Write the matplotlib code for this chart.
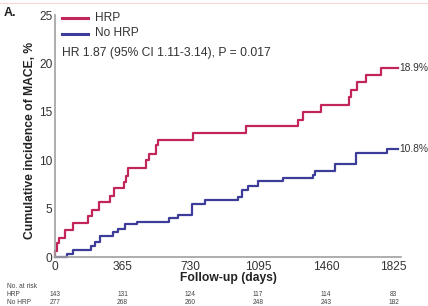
import matplotlib
matplotlib.use('Agg')
import matplotlib.pyplot as plt
from matplotlib.lines import Line2D
from matplotlib.transforms import blended_transform_factory

plt.rcParams['font.family'] = ['Liberation Sans', 'DejaVu Sans']

# data (days, cumulative incidence %)
hrp_days = [1, 9, 23, 54, 99, 179, 198, 239, 296, 318, 372, 383, 395, 490, 508,
            544, 557, 745, 1032, 1311, 1338, 1435, 1585, 1594, 1626, 1675, 1755]
hrp_vals = [0.6, 1.4, 2.0, 2.75, 3.5, 4.2, 4.9, 5.65, 6.3, 7.1, 7.7, 8.4, 9.2, 10.0, 10.6,
            11.6, 12.1, 12.85, 13.55, 14.15, 15.0, 15.7, 16.55, 17.25, 18.1, 18.8, 19.5]
nohrp_days = [63, 95, 192, 216, 243, 314, 341, 377, 444, 616, 665, 737, 808, 988, 1006,
              1042, 1096, 1231, 1389, 1401, 1509, 1622, 1788]
nohrp_vals = [0.35, 0.75, 1.1, 1.5, 2.2, 2.6, 2.9, 3.4, 3.6, 4.05, 4.35, 5.5, 5.9, 6.25, 6.95,
              7.35, 7.8, 8.15, 8.5, 8.85, 9.6, 10.7, 11.15]
end_day = 1850
end_labels = ['18.9%', '10.8%']

xticks = [0, 365, 730, 1095, 1460, 1825]
yticks = [0, 5, 10, 15, 20, 25]
risk_hrp = [143, 131, 124, 117, 114, 83]
risk_nohrp = [277, 268, 260, 248, 243, 182]

HRP_COLOR = '#c2255c'
NOHRP_COLOR = '#3d3d99'

W, H = 428, 306
def fx(px):
    return px / float(W)
def fy(py):
    return 1 - py / float(H)

fig = plt.figure(figsize=(W / 100.0, H / 100.0), dpi=100)
ax = fig.add_axes([fx(55), fy(257), fx(401) - fx(55), fy(15) - fy(257)])

def steps(days, vals):
    x = [0] + days + [end_day]
    y = [0] + vals + [vals[-1]]
    return x, y

x, y = steps(hrp_days, hrp_vals)
ax.step(x, y, where='post', color=HRP_COLOR, lw=1.6, clip_on=False)
x, y = steps(nohrp_days, nohrp_vals)
ax.step(x, y, where='post', color=NOHRP_COLOR, lw=1.6, clip_on=False)

# end-of-curve labels (the reference crops these at the edge; keep them just inside)
ax.text(end_day + 8, hrp_vals[-1], end_labels[0], fontsize=7.4, color='#333333',
        va='center', ha='left', clip_on=False)
ax.text(end_day + 8, nohrp_vals[-1], end_labels[1], fontsize=7.4, color='#333333',
        va='center', ha='left', clip_on=False)

ax.set_xlim(0, 1865)
ax.set_ylim(0, 25)
ax.set_xticks(xticks)
ax.set_yticks(yticks)
ax.tick_params(length=0, labelsize=8.6, colors='#333333', pad=2)
ax.tick_params(axis='x', pad=3)
for s in ['top', 'right']:
    ax.spines[s].set_visible(False)
for s in ['left', 'bottom']:
    ax.spines[s].set_color('#a0a0a0')
    ax.spines[s].set_linewidth(1.2)

fig.text(fx(30), fy(140), 'Cumulative incidence of MACE, %', rotation=90,
         fontsize=8.7, fontweight='bold', color='#222222', ha='center', va='center')
fig.text(fx(228), fy(278), 'Follow-up (days)', fontsize=8.7, fontweight='bold',
         color='#222222', ha='center', va='center')
fig.text(fx(4), fy(13), 'A.', fontsize=9, fontweight='bold', color='#222222',
         ha='left', va='center')

# legend
fig.add_artist(Line2D([fx(62), fx(88)], [fy(18), fy(18)], color=HRP_COLOR, lw=2.2))
fig.add_artist(Line2D([fx(62), fx(88)], [fy(33.5), fy(33.5)], color=NOHRP_COLOR, lw=2.2))
fig.text(fx(95), fy(18), 'HRP', fontsize=8.6, color='#333333', va='center')
fig.text(fx(95), fy(33.5), 'No HRP', fontsize=8.6, color='#333333', va='center')
fig.text(fx(62), fy(53), 'HR 1.87 (95% CI 1.11-3.14), P = 0.017', fontsize=8.7,
         color='#333333', va='center')

# top border line
fig.add_artist(Line2D([0, 1], [fy(2.5), fy(2.5)], color='#f6d6d6', lw=0.8))

# number at risk
tr = blended_transform_factory(ax.transData, fig.transFigure)
fig.text(fx(7), fy(287), 'No. at risk', fontsize=4.8, color='#444444', va='center')
fig.text(fx(7), fy(294.5), 'HRP', fontsize=4.8, color='#444444', va='center')
fig.text(fx(7), fy(302), 'No HRP', fontsize=4.8, color='#444444', va='center')
for d, a, b in zip(xticks, risk_hrp, risk_nohrp):
    ax.text(d, fy(294.5), str(a), transform=tr, fontsize=4.8, color='#444444',
            ha='center', va='center')
    ax.text(d, fy(302), str(b), transform=tr, fontsize=4.8, color='#444444',
            ha='center', va='center')

fig.savefig('out.png', dpi=100)
